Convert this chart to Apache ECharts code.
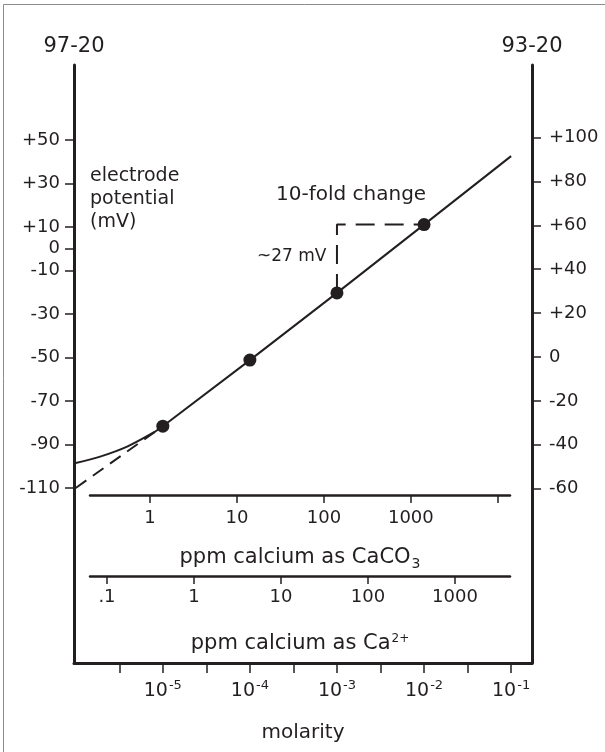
<!DOCTYPE html>
<html>
<head>
<meta charset="utf-8">
<script src="https://cdn.jsdelivr.net/npm/echarts@6/dist/echarts.min.js"></script>
<style>
html, body { margin: 0; padding: 0; background: #fff; }
#chart { width: 605px; height: 752px; }
</style>
</head>
<body>
<div id="chart"></div>
<script>
// x values are log10(molarity)
var pointExp = [-5, -4, -3, -2];
var pointMv = [-81.6, -51.2, -20.3, 11.1];
// straight response line
var lineExp = [-5, -4, -3, -2, -1];
var lineMv = [-81.6, -51.2, -20.3, 11.1, 42.6];
// curved part at low concentration
var curveExp = [-6.0, -5.72, -5.41, -5.11, -5];
var curveMv = [-98.5, -95.6, -91.0, -84.6, -81.6];
// dashed extrapolation
var extrapExp = [-6.0, -5];
var extrapMv = [-110, -81.6];
// 10-fold change step
var stepExp = [-3, -3, -2];
var stepMv = [-20.3, 11.1, 11.1];

var leftTicks = [-110, -90, -70, -50, -30, -10, 0, 10, 30, 50];
var rightTicks = [-60, -40, -20, 0, 20, 40, 60, 80, 100];
var molarTicks = [-5.5, -5, -4.5, -4, -3.5, -3, -2.5, -2, -1.5, -1];
var molarLabels = [-5, -4, -3, -2, -1];
var caco3Ticks = [0, 1, 2, 3, 4]; // log10 ppm
var caco3Labels = ['1', '10', '100', '1000'];
var caTicks = [-1, 0, 1, 2, 3];
var caLabels = ['.1', '1', '10', '100', '1000'];

var ink = '#231f20';
var font = 'DejaVu Sans';

function pairs(xs, ys) {
  return xs.map(function (x, i) { return [x, ys[i]]; });
}
function signed(v) {
  return v > 0 ? '+' + v : String(v);
}

var chart = echarts.init(document.getElementById('chart'));

var hiddenY = function (idx) {
  return { gridIndex: idx, type: 'value', show: false, min: 0, max: 1 };
};

var options = {
  animation: false,
  backgroundColor: '#fff',
  grid: [
    { left: 74, right: 73, top: 65, bottom: 89 },
    { left: 90, right: 95, top: 470, bottom: 257 },
    { left: 90, right: 95, top: 550, bottom: 176 }
  ],
  xAxis: [
    {
      gridIndex: 0,
      type: 'value',
      min: -6.02,
      max: -0.76,
      position: 'bottom',
      splitLine: { show: false },
      axisLine: { show: true, onZero: false, lineStyle: { color: ink, width: 3 } },
      axisTick: { show: true, length: 10, customValues: molarTicks, lineStyle: { color: ink, width: 1.5 } },
      axisLabel: {
        customValues: molarLabels,
        margin: 16,
        formatter: function (v) { return '{b|10}{s|' + v + '}'; },
        rich: {
          b: { fontFamily: font, fontSize: 19, color: ink },
          s: { fontFamily: font, fontSize: 13, color: ink, padding: [0, 0, 12, 1] }
        }
      },
      name: 'molarity',
      nameLocation: 'middle',
      nameGap: 60,
      nameTextStyle: { fontFamily: font, fontSize: 20, color: ink }
    },
    {
      gridIndex: 1,
      type: 'value',
      min: -0.69,
      max: 4.14,
      position: 'bottom',
      splitLine: { show: false },
      axisLine: { show: true, onZero: false, lineStyle: { color: ink, width: 2.5 } },
      axisTick: { show: true, length: 8, customValues: caco3Ticks, lineStyle: { color: ink, width: 1.5 } },
      axisLabel: {
        customValues: [0, 1, 2, 3],
        margin: 14,
        fontFamily: font,
        fontSize: 18,
        color: ink,
        formatter: function (v) { return caco3Labels[Math.round(v)]; }
      },
      name: '{a|ppm calcium as CaCO}{sub|3}',
      nameLocation: 'middle',
      nameGap: 50,
      nameTextStyle: {
        rich: {
          a: { fontFamily: font, fontSize: 21, color: ink },
          sub: { fontFamily: font, fontSize: 14, color: ink, padding: [12, 0, 0, 1] }
        }
      }
    },
    {
      gridIndex: 2,
      type: 'value',
      min: -1.195,
      max: 3.633,
      position: 'bottom',
      splitLine: { show: false },
      axisLine: { show: true, onZero: false, lineStyle: { color: ink, width: 2.5 } },
      axisTick: { show: true, length: 8, customValues: caTicks, lineStyle: { color: ink, width: 1.5 } },
      axisLabel: {
        customValues: caTicks,
        margin: 12,
        fontFamily: font,
        fontSize: 18,
        color: ink,
        formatter: function (v) { return caLabels[Math.round(v) + 1]; }
      },
      name: '{a|ppm calcium as Ca}{sup|2+}',
      nameLocation: 'middle',
      nameGap: 57,
      nameTextStyle: {
        rich: {
          a: { fontFamily: font, fontSize: 21, color: ink },
          sup: { fontFamily: font, fontSize: 12, color: ink, padding: [0, 0, 10, 1] }
        }
      }
    }
  ],
  yAxis: [
    {
      gridIndex: 0,
      type: 'value',
      position: 'left',
      min: -190.5,
      max: 84.5,
      splitLine: { show: false },
      axisLine: { show: true, onZero: false, lineStyle: { color: ink, width: 3 } },
      axisTick: { show: true, length: 9, customValues: leftTicks, lineStyle: { color: ink, width: 1.5 } },
      axisLabel: {
        customValues: leftTicks,
        margin: 14,
        fontFamily: font,
        fontSize: 18,
        color: ink,
        formatter: signed
      },
      name: '97-20',
      nameLocation: 'end',
      nameGap: 8,
      nameTextStyle: { fontFamily: font, fontSize: 21, color: ink, align: 'center' }
    },
    {
      gridIndex: 0,
      type: 'value',
      position: 'right',
      min: -139.5,
      max: 133.1,
      splitLine: { show: false },
      axisLine: { show: true, onZero: false, lineStyle: { color: ink, width: 3 } },
      axisTick: { show: true, length: 9, customValues: rightTicks, lineStyle: { color: ink, width: 1.5 } },
      axisLabel: {
        customValues: rightTicks,
        margin: 17,
        fontFamily: font,
        fontSize: 18,
        color: ink,
        formatter: signed
      },
      name: '93-20',
      nameLocation: 'end',
      nameGap: 8,
      nameTextStyle: { fontFamily: font, fontSize: 21, color: ink, align: 'center' }
    },
    hiddenY(1),
    hiddenY(2)
  ],
  series: [
    {
      name: 'extrapolation',
      type: 'line',
      xAxisIndex: 0, yAxisIndex: 0,
      data: pairs(extrapExp, extrapMv),
      symbol: 'none',
      lineStyle: { color: ink, width: 2, type: [13, 8] },
      z: 2
    },
    {
      name: 'low range',
      type: 'line',
      xAxisIndex: 0, yAxisIndex: 0,
      data: pairs(curveExp, curveMv),
      smooth: 0.3,
      symbol: 'none',
      lineStyle: { color: ink, width: 2 },
      z: 3
    },
    {
      name: 'response',
      type: 'line',
      xAxisIndex: 0, yAxisIndex: 0,
      data: pairs(lineExp, lineMv),
      symbol: 'none',
      lineStyle: { color: ink, width: 2 },
      z: 3
    },
    {
      name: 'step',
      type: 'line',
      xAxisIndex: 0, yAxisIndex: 0,
      data: pairs(stepExp, stepMv),
      symbol: 'none',
      lineStyle: { color: ink, width: 2, type: [19, 10] },
      z: 2
    },
    {
      name: 'points',
      type: 'scatter',
      xAxisIndex: 0, yAxisIndex: 0,
      data: pairs(pointExp, pointMv),
      symbolSize: 13,
      itemStyle: { color: ink, opacity: 1 },
      z: 4
    }
  ],
  graphic: [
    {
      type: 'rect',
      shape: { x: 3.5, y: 4.5, width: 700, height: 800 },
      style: { fill: 'none', stroke: '#8c8c8c', lineWidth: 1 },
      silent: true
    },
    {
      type: 'text',
      left: 90, top: 165,
      style: {
        text: 'electrode\npotential\n(mV)',
        font: '19px "DejaVu Sans"',
        lineHeight: 23,
        fill: ink
      }
    },
    {
      type: 'text',
      left: 276, top: 185,
      style: { text: '10-fold change', font: '20px "DejaVu Sans"', fill: ink }
    },
    {
      type: 'text',
      left: 257, top: 248,
      style: { text: '~27 mV', font: '17px "DejaVu Sans"', fill: ink }
    }
  ]
};

chart.setOption(options);
</script>
</body>
</html>
